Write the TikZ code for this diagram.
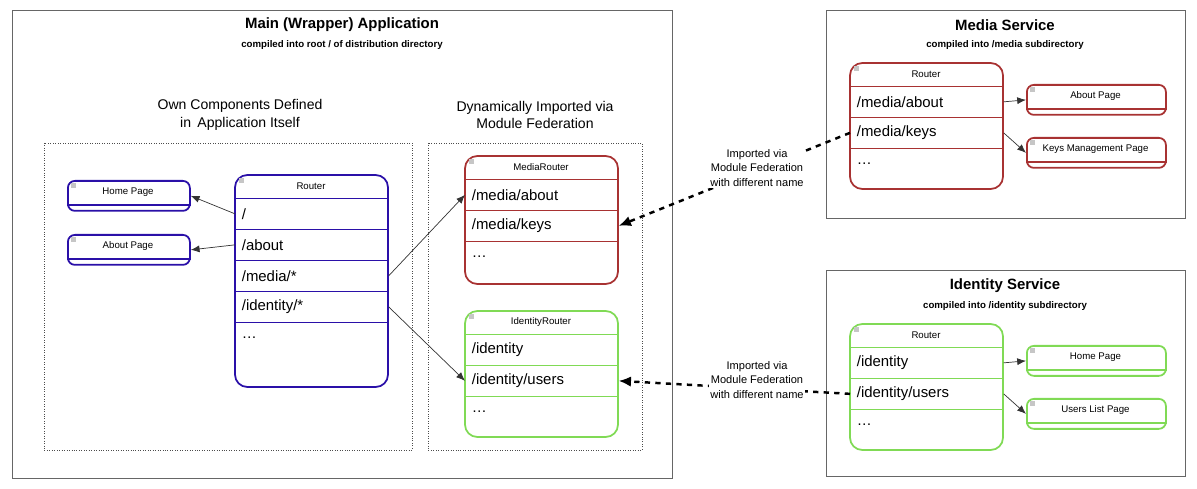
\documentclass[tikz,border=0pt]{standalone}
\usepackage{fontspec}
\setmainfont{Liberation Sans}
\usetikzlibrary{arrows.meta}
\usetikzlibrary{positioning}
\definecolor{routerblue}{HTML}{2A10A8}
\definecolor{routerred}{HTML}{A83232}
\definecolor{routergreen}{HTML}{80DA55}
\tikzset{>={Latex[length=5pt,width=4pt]}}
\tikzstyle{frame} = [draw=black!60, thin]
\tikzstyle{dotframe} = [draw=black!70, densely dotted]
\tikzstyle{boxline} = [line width=1pt, rounded corners=7pt]
\tikzstyle{rowcell} = [anchor=north west, minimum height=0.62cm, text width=2.8cm, inner xsep=0.13cm, inner ysep=0pt, align=left, font=\fontsize{8.5}{10}\selectfont]
\tikzstyle{pagecell} = [anchor=north west, minimum height=0.6cm, line width=1pt, rounded corners=4pt]
\tikzstyle{small} = [font=\fontsize{5.5}{6.5}\selectfont]
\tikzstyle{link} = [->, draw=black!80, thin]
\tikzstyle{import} = [-{Latex[length=7pt,width=6pt]}, draw=black, line width=1.4pt, dashed]

% router box: name, x, y, title, colour, rows, height
\newcommand{\routerbox}[7]{%
  \draw[boxline, draw=#5] (#2,#3) rectangle ++(153,#7);
  \fill[gray!45] (#2+4,#3+3) rectangle ++(5,5);
  \node[small] (#1-title) at (#2+76,#3+11) {#4};
  \foreach \r [count=\i] in {#6} {
    \node[rowcell] (#1-\i) at (#2,#3+23+31*\i-31) {\r};
    \draw[draw=#5] (#1-\i.north west) -- (#1-\i.north east);
  }
}
% page box: name, x, y, width, label, colour
\newcommand{\pagebox}[6]{%
  \node[pagecell, draw=#6, minimum width=#4*0.02cm] (#1) at (#2,#3) {};
  \draw[draw=#6, line width=1pt] ([yshift=0.14cm]#1.south west) -- ([yshift=0.14cm]#1.south east);
  \fill[gray!45] (#2+4,#3+3) rectangle ++(5,5);
  \node[small] (#1-label) at (#2+#4/2,#3+12) {#5};
}

\begin{document}
\begin{tikzpicture}[x=0.02cm, y=-0.02cm]
\useasboundingbox (0,0) rectangle (1197,489);

% main application
\draw[frame] (12,10) rectangle (672,478);
\node[font=\bfseries\fontsize{8.5}{10}\selectfont] (maintitle) at (342,25) {Main (Wrapper) Application};
\node[font=\bfseries\fontsize{5.5}{6.5}\selectfont] (mainsub) at (342,45) {compiled into root / of distribution directory};
\draw[dotframe] (44,143) rectangle (412,450);
\draw[dotframe] (428,143) rectangle (642,450);
\node[align=center, font=\fontsize{8}{10}\selectfont] (own) at (240,115) {Own Components Defined\\in\, Application Itself};
\node[align=center, font=\fontsize{8}{10}\selectfont] (dyn) at (535,115) {Dynamically Imported via\\Module Federation};

\routerbox{mainr}{235}{175}{Router}{routerblue}{/,/about,/media/*,/identity/*,\ldots}{212}
\pagebox{home}{67}{180}{122}{Home Page}{routerblue}
\pagebox{about}{67}{234}{122}{About Page}{routerblue}
\routerbox{mediar}{465}{156}{MediaRouter}{routerred}{/media/about,/media/keys,\ldots}{128}
\routerbox{identr}{465}{311}{IdentityRouter}{routergreen}{/identity,/identity/users,\ldots}{126}

\draw[link] (mainr-1.west) -- (home.east);
\draw[link] (mainr-2.west) -- (about.east);
\draw[link] (mainr-3.east) -- (mediar-1.west);
\draw[link] (mainr-4.east) -- (identr-2.west);

% media service
\draw[frame] (826,10) rectangle (1185,218);
\node[font=\bfseries\fontsize{8.5}{10}\selectfont] (mediatitle) at (1005,25) {Media Service};
\node[font=\bfseries\fontsize{5.5}{6.5}\selectfont] (mediasub) at (1005,45) {compiled into /media subdirectory};
\routerbox{msr}{850}{63}{Router}{routerred}{/media/about,/media/keys,\ldots}{126}
\pagebox{mabout}{1026}{84}{139}{About Page}{routerred}
\pagebox{mkeys}{1026}{137}{139}{Keys Management Page}{routerred}
\draw[link] (msr-1.east) -- (mabout.west);
\draw[link] (msr-2.east) -- (mkeys.west);

% identity service
\draw[frame] (826,270) rectangle (1185,476);
\node[font=\bfseries\fontsize{8.5}{10}\selectfont] (identtitle) at (1005,286) {Identity Service};
\node[font=\bfseries\fontsize{5.5}{6.5}\selectfont] (identsub) at (1005,306) {compiled into /identity subdirectory};
\routerbox{isr}{850}{324}{Router}{routergreen}{/identity,/identity/users,\ldots}{126}
\pagebox{ihome}{1026}{345}{139}{Home Page}{routergreen}
\pagebox{iusers}{1026}{398}{139}{Users List Page}{routergreen}
\draw[link] (isr-1.east) -- (ihome.west);
\draw[link] (isr-2.east) -- (iusers.west);

% federation imports
\draw[import] (msr-2.west) -- (mediar-2.east);
\draw[import] (isr-2.west) -- (identr-2.east);
\node[align=center, fill=white, inner sep=1pt, font=\fontsize{6.3}{8}\selectfont] (imp1) at (757,168) {Imported via\\Module Federation\\with different name};
\node[align=center, fill=white, inner sep=1pt, font=\fontsize{6.3}{8}\selectfont] (imp2) at (757,380) {Imported via\\Module Federation\\with different name};
\end{tikzpicture}
\end{document}
